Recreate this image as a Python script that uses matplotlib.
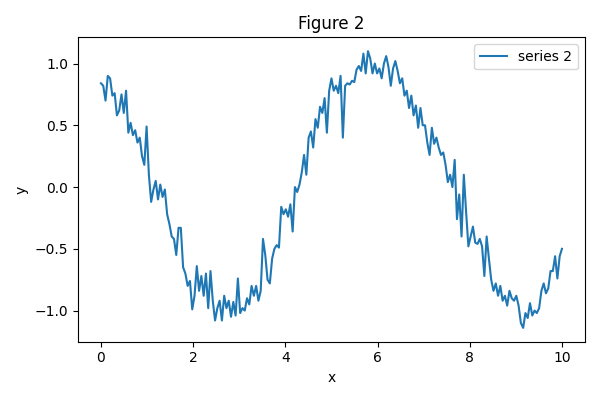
import numpy as np
import matplotlib.pyplot as plt

# Values, in order from x=0 to x=10
y = [
    0.84, 0.82, 0.70, 0.90, 0.88, 0.74, 0.76, 0.58, 0.62, 0.75, 0.60,
    0.78, 0.44, 0.52, 0.42, 0.46, 0.36, 0.40, 0.25, 0.18, 0.49,
    0.10, -0.12, -0.02, 0.05, -0.10, 0.02, -0.08, -0.02, -0.22, -0.30,
    -0.40, -0.42, -0.55, -0.33, -0.33, -0.65, -0.70, -0.80, -0.76, -0.99,
    -0.88, -0.64, -0.84, -0.72, -0.88, -0.70, -0.98, -0.68, -0.92, -1.08,
    -0.98, -0.92, -1.08, -0.88, -0.98, -0.92, -1.05, -0.93, -1.04, -0.74,
    -1.02, -0.98, -1.00, -0.90, -0.95, -0.80, -0.88, -0.80, -0.92, -0.84,
    -0.42, -0.55, -0.75, -0.78, -0.58, -0.50, -0.47, -0.49, -0.16, -0.22,
    -0.18, -0.24, -0.14, -0.36, 0.00, -0.04, 0.02, 0.12, 0.26, 0.10,
    0.40, 0.45, 0.32, 0.55, 0.48, 0.65, 0.60, 0.72, 0.44, 0.78,
    0.88, 0.78, 0.82, 0.76, 0.90, 0.40, 0.82, 0.84, 0.83, 0.86,
    0.85, 0.95, 0.98, 0.94, 1.08, 0.92, 1.10, 1.04, 0.92, 1.00,
    0.92, 0.96, 0.88, 1.00, 1.06, 0.97, 0.82, 0.96, 1.02, 0.94,
    0.84, 0.88, 0.74, 0.78, 0.64, 0.74, 0.58, 0.66, 0.48, 0.64,
    0.50, 0.50, 0.36, 0.26, 0.48, 0.35, 0.40, 0.32, 0.26, 0.28,
    0.18, 0.04, 0.10, 0.00, 0.22, -0.26, -0.06, -0.40, 0.10, -0.20,
    -0.48, -0.40, -0.32, -0.45, -0.46, -0.42, -0.48, -0.72, -0.40, -0.58,
    -0.75, -0.84, -0.78, -0.88, -0.80, -0.92, -0.88, -0.96, -0.84, -0.90,
    -0.92, -0.88, -0.96, -1.10, -1.14, -1.02, -1.06, -0.94, -1.04, -1.00,
    -1.02, -0.98, -0.84, -0.78, -0.86, -0.82, -0.68, -0.68, -0.56, -0.74, -0.56, -0.50,
]
x = np.linspace(0, 10, len(y))

fig, ax = plt.subplots(figsize=(6, 4), dpi=100)
ax.plot(x, y, label="series 2")
ax.set_title("Figure 2")
ax.set_xlabel("x")
ax.set_ylabel("y")
ax.legend(loc="upper right")

plt.tight_layout()
plt.savefig("out.png")
plt.close()
